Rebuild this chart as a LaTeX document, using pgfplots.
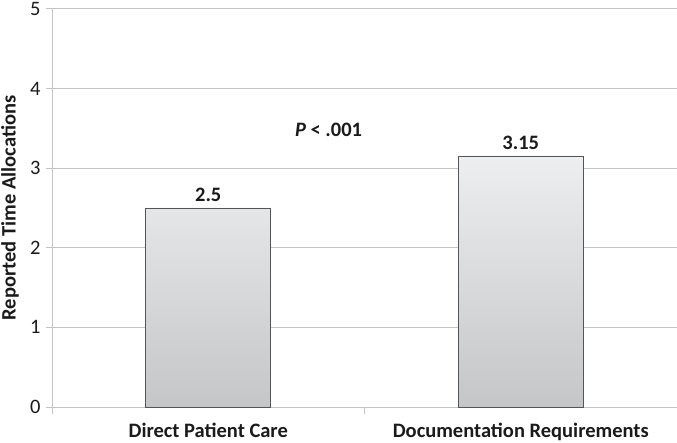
\documentclass[border=0pt]{standalone}
\usepackage{fontspec}
\setmainfont{Carlito}
\usepackage{pgfplots}
\pgfplotsset{compat=1.18}
\definecolor{gridgray}{HTML}{C4C4C4}
\definecolor{bartop}{HTML}{EDEEEF}
\definecolor{barbot}{HTML}{C5C6C8}
\definecolor{bardraw}{HTML}{555555}
\definecolor{txt}{HTML}{1A1A1A}

\begin{document}
\begin{tikzpicture}
\begin{axis}[
  scale only axis, width=625bp, height=398bp,
  xmin=0.5, xmax=2.5, ymin=0, ymax=5,
  axis x line*=bottom, axis y line*=left,
  axis line style={gridgray, line width=1pt},
  ytick={0,1,2,3,4,5}, ymajorgrids,
  major grid style={gridgray, line width=1pt},
  xtick={1,2}, xticklabels={Direct Patient Care, Documentation Requirements},
  major x tick style={draw=none},
  minor xtick={0.5,1.5,2.5},
  minor x tick style={gridgray, line width=1pt},
  minor tick length=7bp,
  major tick length=6bp,
  ytick style={gridgray, line width=1pt},
  tick align=outside,
  /pgf/number format/assume math mode=true,
  yticklabel style={font=\fontsize{20.5bp}{22bp}\selectfont, text=txt, xshift=-2bp},
  xticklabel style={font=\fontsize{20.5bp}{22bp}\selectfont\bfseries, text=txt, yshift=-7bp},
  ylabel={\bfseries Reported Time Allocations},
  ylabel style={font=\fontsize{20.5bp}{22bp}\selectfont, text=txt,
    at={(axis description cs:-0.067,0.5)}, anchor=center},
  nodes near coords,
  every node near coord/.append style={font=\fontsize{20.5bp}{22bp}\selectfont\bfseries, text=txt, yshift=3bp},
  point meta=explicit symbolic,
]
\addplot[ybar, bar width=0.4, draw=bardraw, line width=0.8pt,
  top color=bartop, bottom color=barbot]
  coordinates {(1,2.5) [2.5] (2,3.15) [3.15]};
\node[font=\fontsize{20.5bp}{22bp}\selectfont\bfseries, text=txt]
  at (axis cs:1.385,3.48) {\itshape P\upshape{} < .001};
\end{axis}
\pgfresetboundingbox
\path (-52bp,-36bp) rectangle (625bp,407bp);
\end{tikzpicture}
\end{document}
